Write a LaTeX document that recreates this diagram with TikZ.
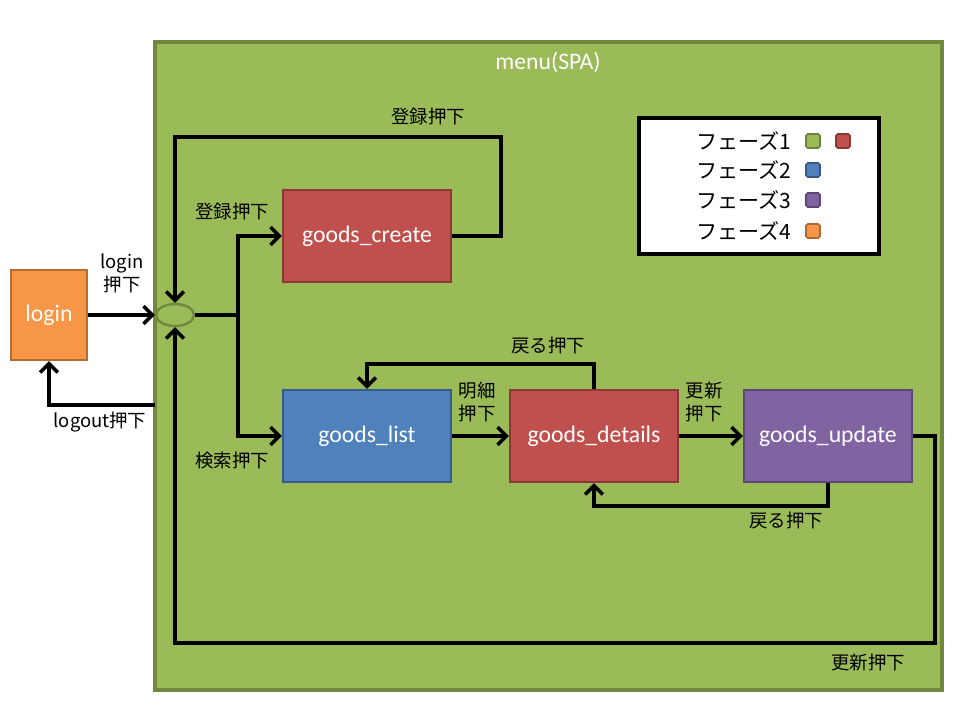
\documentclass[tikz,border=0pt]{standalone}
\usepackage{fontspec}
\setmainfont{Carlito}
\newfontfamily\jpfont{Noto Sans CJK JP}
\usetikzlibrary{arrows.meta, positioning, shapes.geometric}

\definecolor{phasegreen}{HTML}{9BBB59}
\definecolor{phasegreenline}{HTML}{71893F}
\definecolor{phasered}{HTML}{C0504D}
\definecolor{phaseredline}{HTML}{8C3836}
\definecolor{phaseblue}{HTML}{4F81BD}
\definecolor{phaseblueline}{HTML}{385D8A}
\definecolor{phasepurple}{HTML}{8064A2}
\definecolor{phasepurpleline}{HTML}{5C4776}
\definecolor{phaseorange}{HTML}{F79646}
\definecolor{phaseorangeline}{HTML}{B66D31}

\begin{document}
\begin{tikzpicture}[
        x=0.02cm, y=-0.02cm,
        screen/.style={rectangle, draw, line width=1.4pt, minimum width=3.36cm, minimum height=1.84cm, text=white, font=\fontsize{13.5}{16}\selectfont},
        lbl/.style={font=\jpfont\fontsize{10.5}{13}\selectfont, align=center, inner sep=0pt},
        swatch/.style={rectangle, draw, line width=0.9pt, rounded corners=1pt, minimum size=0.28cm, inner sep=0pt},
        arrow/.style={-{Straight Barb[length=5pt, width=10pt, line width=2pt]}, line width=2pt},
        line/.style={line width=2pt}
    ]
        \fill[white] (0,0) rectangle (960,720);

        % SPA frame
        \node[rectangle, draw=phasegreenline, fill=phasegreen, line width=2pt, minimum width=15.74cm, minimum height=12.96cm] (menu) at (548.5,366) {};
        \node[text=white, font=\fontsize{13.5}{16}\selectfont] (title) at (548,62) {menu(SPA)};

        % Screens
        \node[screen, fill=phaseorange, draw=phaseorangeline, minimum width=1.52cm, minimum height=1.8cm] (login) at (49,315) {login};
        \node[ellipse, draw=phasegreenline, fill=phasegreen, line width=1.4pt, minimum width=0.76cm, minimum height=0.44cm, inner sep=0pt] (hub) at (175,315) {};
        \node[screen, fill=phasered, draw=phaseredline] (create) at (367,236) {goods\_create};
        \node[screen, fill=phaseblue, draw=phaseblueline] (list) at (367,436) {goods\_list};
        \node[screen, fill=phasered, draw=phaseredline] (details) at (594,436) {goods\_details};
        \node[screen, fill=phasepurple, draw=phasepurpleline] (update) at (828,436) {goods\_update};

        % Legend
        \node[rectangle, draw, fill=white, line width=2.2pt, minimum width=4.8cm, minimum height=2.72cm] (legend) at (759,186) {};
        \foreach \i/\c/\y in {1/phasegreen/141, 2/phaseblue/170, 3/phasepurple/200, 4/phaseorange/231} {
            \node[lbl, anchor=west, font=\jpfont\fontsize{12}{14}\selectfont] (p\i) at (696,\y) {フェーズ\i};
            \node[swatch, fill=\c, draw=\c!70!black] (s\i) at (813,\y) {};
        }
        \node[swatch, fill=phasered, draw=phaseredline] (s1b) at (843,141) {};

        % Junction points
        \coordinate (split) at (238,315);
        \coordinate (loopR) at (501,137);
        \coordinate (logoutS) at (155,405);
        \coordinate (bottomR) at (935,643);

        % Connectors
        \draw[arrow] (login.east) -- (hub.west);
        \draw[line] (hub.east) -- (split);
        \draw[arrow] (split) |- (create.west);
        \draw[arrow] (split) |- (list.west);
        \draw[arrow] (create.east) -| (loopR) -| (hub.north);
        \draw[arrow] (logoutS) -| (login.south);
        \draw[arrow] (list.east) -- (details.west);
        \draw[arrow] (details.east) -- (update.west);
        \draw[arrow] (details.north) -- ++(0,-25) -| (list.north);
        \draw[arrow] (update.south) -- ++(0,23) -| (details.south);
        \draw[arrow] (update.east) -| (bottomR) -| (hub.south);

        % Labels
        \node[lbl] (lLogin) at (122,273) {login\\押下};
        \node[lbl] (lLogout) at (100,422) {logout押下};
        \node[lbl] (lCreate) at (232,211) {登録押下};
        \node[lbl] (lSearch) at (232,461) {検索押下};
        \node[lbl] (lLoop) at (428,116) {登録押下};
        \node[lbl] (lDetail) at (477,402) {明細\\押下};
        \node[lbl] (lUpdate) at (704,402) {更新\\押下};
        \node[lbl] (lBack1) at (548,346) {戻る押下};
        \node[lbl] (lBack2) at (786,521) {戻る押下};
        \node[lbl] (lBottom) at (868,663) {更新押下};
    \end{tikzpicture}
\end{document}
